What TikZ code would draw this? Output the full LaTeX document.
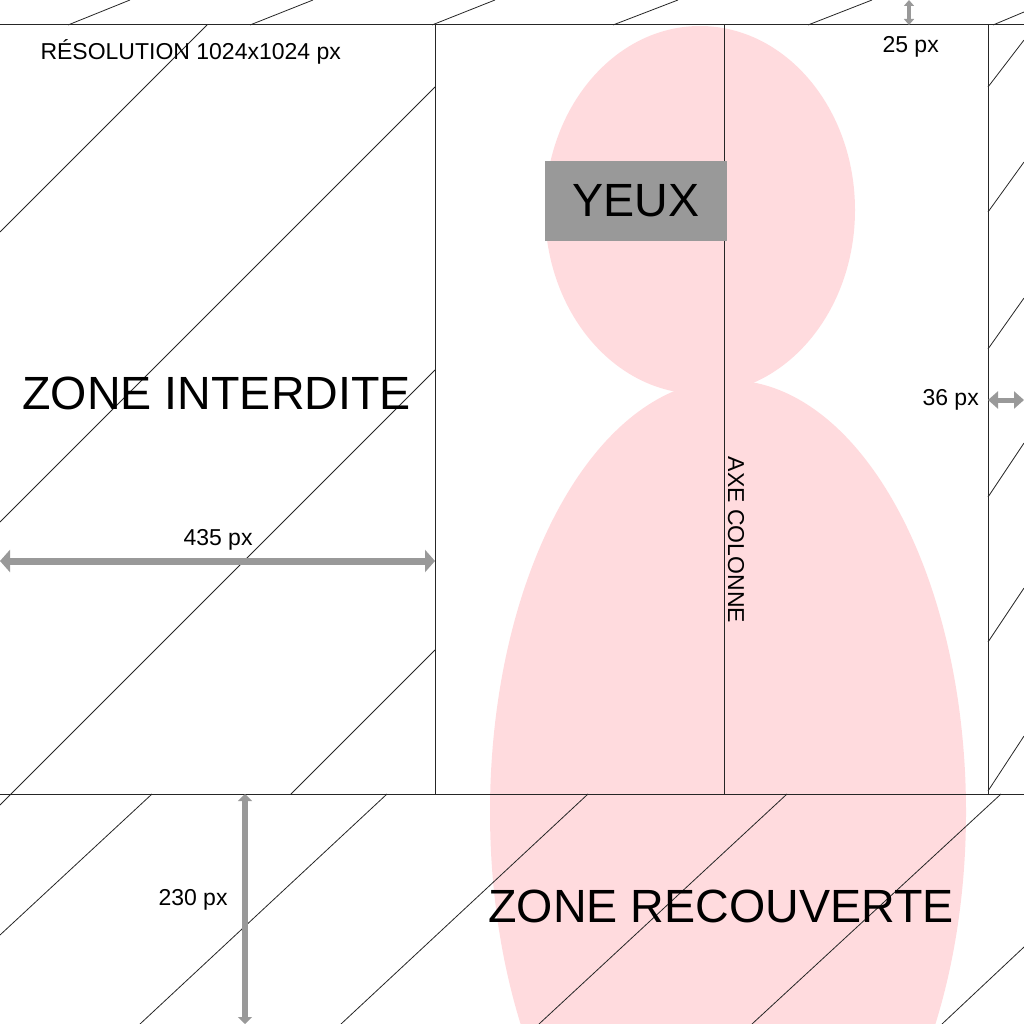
\documentclass[tikz,border=0pt]{standalone}
\usepackage{fontspec}
\setmainfont{Liberation Sans}
\usetikzlibrary{arrows.meta}
\definecolor{peau}{RGB}{255,219,222}
\definecolor{gris}{RGB}{153,153,153}

\begin{document}
\begin{tikzpicture}[x=1pt,y=-1pt,line width=1pt]
	\useasboundingbox (0,0) rectangle (1024,1024);
	\clip (0,0) rectangle (1024,1024);
	\tikzstyle{hachure}=[line width=0.8pt,black!85]
	\tikzstyle{cadre}=[line width=1pt,black!85]
	\tikzstyle{cote}=[draw=gris,<->]
	\tikzstyle{petit}=[font=\fontsize{23}{27}\selectfont,inner sep=0pt]
	\tikzstyle{grand}=[font=\fontsize{46.6}{52}\selectfont,inner sep=0pt]

	\fill[peau] (700,210) ellipse [x radius=155, y radius=184];
	\fill[peau] (728,812) ellipse [x radius=238, y radius=432];

	\foreach \xa/\ya/\xb/\yb in {0/232/207/25, 0/522/435/87, 0/805/435/370, 291/794/435/650,
		68/25/130/0, 250/25/313/0, 432/25/495/0, 613/25/678/0, 808/25/872/0, 993/25/1024/12,
		988/87/1024/40, 988/212/1024/162, 988/349/1024/298, 988/497/1024/443, 988/642/1024/588, 988/791/1024/736,
		152/794/0/935, 387/794/140/1024, 588/794/341/1024, 787/794/539/1024, 1001/794/752/1024, 1024/947/942/1024}
		\draw[hachure] (\xa,\ya) -- (\xb,\yb);

	\draw[cadre] (0,25) -- (1024,25);
	\draw[cadre] (0,794) -- (1024,794);
	\draw[cadre] (435,25) -- (435,794);
	\draw[cadre] (988,25) -- (988,794);
	\draw[cadre] (724,25) -- (724,794);

	\node[grand,fill=gris,minimum width=182pt,minimum height=80pt] (yeux) at (636,201) {YEUX};

	\coordinate (g435a) at (0,561);   \coordinate (g435b) at (435,561);
	\coordinate (g25a)  at (909,0);   \coordinate (g25b)  at (909,25);
	\coordinate (g36a)  at (988,400); \coordinate (g36b)  at (1024,400);
	\coordinate (g230a) at (245,794); \coordinate (g230b) at (245,1024);
	\draw[cote,line width=7pt,>={Triangle[length=10pt,width=22pt]}] (g435a) -- (g435b);
	\draw[cote,line width=3.5pt,>={Triangle[length=6pt,width=10pt]}] (g25a)  -- (g25b);
	\draw[cote,line width=5pt,>={Triangle[length=10pt,width=17pt]}] (g36a)  -- (g36b);
	\draw[cote,line width=6pt,>={Triangle[length=7pt,width=14pt]}]  (g230a) -- (g230b);

	\node[petit,anchor=base west] (resolution) at (40,60)   {RÉSOLUTION 1024x1024 px};
	\node[grand,anchor=base west] (interdite)  at (22,409)  {ZONE INTERDITE};
	\node[grand,anchor=base west] (recouverte) at (488,922) {ZONE RECOUVERTE};
	\node[petit,rotate=-90]       (axe)        at (736,540) {AXE COLONNE};
	\node[petit,anchor=base west] (t435)       at (183,545) {435 px};
	\node[petit,anchor=base west] (t25)        at (882,53)  {25 px};
	\node[petit,anchor=base west] (t36)        at (922,405) {36 px};
	\node[petit,anchor=base west] (t230)       at (158,905) {230 px};
\end{tikzpicture}
\end{document}
